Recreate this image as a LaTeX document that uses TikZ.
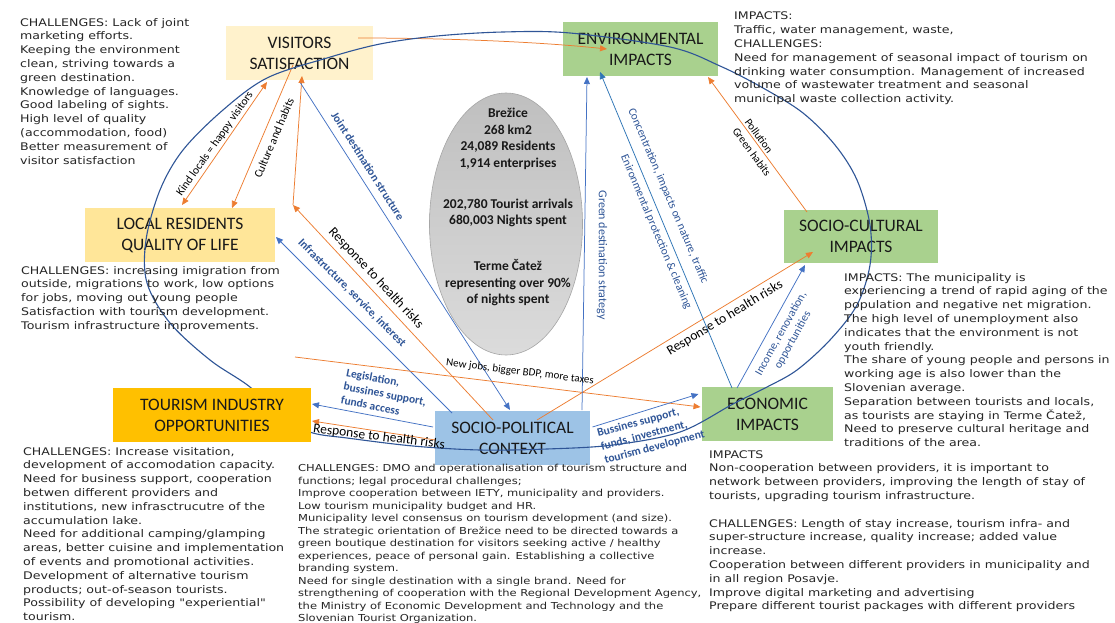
\documentclass[tikz,border=0pt]{standalone}
\usepackage{fontspec}
\setmainfont{Carlito}
\newfontfamily\hand[FakeStretch=1.2]{DejaVu Sans}
\usetikzlibrary{arrows.meta,calc,shapes.geometric}

\definecolor{orA}{HTML}{ED7D31}
\definecolor{blA}{HTML}{4472C4}
\definecolor{blB}{HTML}{2E75B6}
\definecolor{blD}{HTML}{2F5597}
\definecolor{yelL}{HTML}{FFF2CC}
\definecolor{yelM}{HTML}{FFE699}
\definecolor{yelS}{HTML}{FFC000}
\definecolor{grn}{HTML}{A9D18E}
\definecolor{bluBox}{HTML}{9DC3E6}
\definecolor{ink}{HTML}{262626}

\tikzset{
  box/.style={inner sep=0pt, align=center, text=black!90,
    font=\fontsize{17.5}{21}\selectfont},
  tip/.style={-{Triangle[length=7pt,width=6pt]}},
  oarr/.style={draw=orA, line width=0.75pt, tip},
  barr/.style={draw=blA, line width=0.75pt, tip},
  carr/.style={draw=blB, line width=0.75pt, tip},
  lblr/.style={inner sep=0pt, text=black, font=\fontsize{13.5}{16}\selectfont},
  lblo/.style={inner sep=0pt, text=black, font=\fontsize{11.5}{14}\selectfont},
  lbls/.style={inner sep=0pt, text=black, font=\fontsize{11}{13}\selectfont},
  lblb/.style={inner sep=0pt, text=blD, font=\bfseries\fontsize{11.5}{14}\selectfont},
  lblbl/.style={inner sep=0pt, text=blD, font=\fontsize{11.5}{13.5}\selectfont},
  note/.style={inner sep=0pt, anchor=north west, align=left, text=ink,
    font=\hand\fontsize{10.5}{13.8}\selectfont},
  stat/.style={inner sep=0pt, align=center, text=black!90,
    font=\bfseries\fontsize{13.5}{16.5}\selectfont}
}

\begin{document}
\begin{tikzpicture}[x=1pt,y=-1pt]
\fill[white] (0,0) rectangle (1115,623);
\useasboundingbox (0,0) rectangle (1115,623);

% central statistics ellipse
\node[ellipse, draw=gray!70!white, line width=0.6pt, minimum width=153pt,
  minimum height=262pt, top color=gray!50!white, bottom color=gray!28!white] (ell) at (506,224) {};
\node[stat] (st1) at (508,139) {Brežice\\268 km2\\24,089 Residents\\1,914 enterprises};
\node[stat] (st2) at (508,213) {202,780 Tourist arrivals\\680,003 Nights spent};
\node[stat] (st3) at (508,283) {Terme Čatež\\representing over 90\%\\of nights spent};

% boxes
\node[box, fill=yelL, minimum width=147pt, minimum height=54pt] (vis) at (299.5,53) {VISITORS\\SATISFACTION};
\node[box, fill=grn, minimum width=155pt, minimum height=54pt] (env) at (640.5,49) {ENVIRONMENTAL\\IMPACTS};
\node[box, fill=yelM, minimum width=190pt, minimum height=54pt] (loc) at (180,235) {LOCAL RESIDENTS\\QUALITY OF LIFE};
\node[box, fill=grn, minimum width=154pt, minimum height=53pt] (socu) at (861,236.5) {SOCIO-CULTURAL\\IMPACTS};
\node[box, fill=bluBox, minimum width=155pt, minimum height=54pt] (sopo) at (512.5,438) {SOCIO-POLITICAL\\CONTEXT};
\node[box, fill=grn, minimum width=131pt, minimum height=54pt] (econ) at (767.5,414) {ECONOMIC\\IMPACTS};

% free ends
\coordinate (rh) at (293,205);
\coordinate (nj) at (295,357);

% connectors
\draw[oarr] ($(vis.center)+(58.5,-15)$) .. controls (450,38) and (540,42) .. ($(env.center)+(-33.5,0)$);
\draw[oarr, {Triangle[length=7pt,width=6pt]}-{Triangle[length=7pt,width=6pt]}] ($(loc.center)+(2,-30)$) -- ($(vis.center)+(-32.5,29)$);
\draw[oarr] ($(vis.center)+(-6.5,12)$) -- ($(loc.center)+(52,-27)$);
\draw[oarr] (rh) -- ($(vis.center)+(2.5,23)$);
\draw[oarr] ($(sopo.center)+(-19.5,-18)$) -- (rh);
\draw[barr] ($(vis.center)+(1,30)$) -- ($(sopo.center)+(-2.5,-28)$);
\draw[barr] ($(sopo.center)+(-60.5,-25)$) -- ($(loc.center)+(96,2)$);
\draw[barr] ($(sopo.center)+(-79.5,-11)$) -- (312,404);
\draw[oarr] ($(sopo.center)+(-77,2)$) -- (312,421);
\draw[oarr] (nj) -- ($(econ.center)+(-67,-7)$);
\draw[barr] ($(sopo.center)+(80,-11)$) -- ($(econ.center)+(-69,-20)$);
\draw[oarr] ($(sopo.center)+(24.5,-18)$) -- ($(socu.center)+(-48,15.5)$);
\draw[barr] ($(sopo.center)+(69.5,-28)$) -- ($(env.center)+(-53.5,28)$);
\draw[carr] ($(econ.center)+(-35.5,-26)$) -- ($(env.center)+(-40.5,23)$);
\draw[barr] ($(econ.center)+(-30.5,-26)$) -- ($(socu.center)+(-56,28.5)$);
\draw[oarr] ($(socu.center)+(-54,-24.5)$) -- ($(env.center)+(67.5,28)$);

% the loop joining all fields
\draw[blD, line width=1.1pt] plot[smooth cycle, tension=0.55] coordinates {
  (250,387) (210,360) (170,323) (147,283) (146,240) (160,190) (183,150)
  (223,110) (267,78) (327,58) (380,44) (437,36) (503,32) (570,33) (670,47)
  (720,66) (763,88) (803,113) (835,145) (857,180) (870,225) (870,265)
  (857,305) (830,340) (797,370) (767,387) (733,404) (680,432) (613,445)
  (547,449) (480,450) (413,446) (347,438) (313,433) (285,420)};

\node[box, fill=yelS, minimum width=198pt, minimum height=54pt] (tour) at (212,415) {TOURISM INDUSTRY\\OPPORTUNITIES};

% connector labels
\node[lblo, rotate=55] (tkind) at (215,144) {Kind locals = happy visitors};
\node[lblo, rotate=67] (tcult) at (274,138) {Culture and habits};
\node[lblr, rotate=-47] (trh1) at (376,278) {Response to health risks};
\node[lblb, rotate=-57.5] (tjoint) at (368,166) {Joint destination structure};
\node[lblb, rotate=-45] (tinfra) at (352,293) {Infrastructure, service, interest};
\node[lblb, rotate=-11, align=left] (tlegis) at (385,394) {Legislation,\\bussines support,\\funds access};
\node[lblr, rotate=-7] (trh3) at (379,437) {Response to health risks};
\node[lbls, rotate=-7] (tjobs) at (520,372) {New jobs, bigger BDP, more taxes};
\node[lblb, rotate=15, align=left] (tbus) at (651,434) {Bussines support,\\funds, investment,\\tourism development};
\node[lblr, rotate=31] (trh2) at (725,318) {Response to health risks};
\node[lblbl, rotate=-90, font=\fontsize{12}{14}\selectfont] (tgreen) at (602,255) {Green destination strategy};
\node[lblbl, rotate=-67] (tconc) at (668,196) {Concentration, impacts on nature, traffic};
\node[lblbl, rotate=-67] (tenv) at (656,232) {Enironmental protection \& cleaning};
\node[lblbl, rotate=61, align=center] (tinc) at (787,337) {Income, renovation,\\opportunities};
\node[lbls, rotate=-54] (tpol) at (759,136) {Pollution};
\node[lbls, rotate=-54] (tgh) at (752,152) {Green habits};

% notes
\node[note] (nA) at (20,18) {CHALLENGES: Lack of joint\\marketing efforts.\\Keeping the environment\\clean, striving towards a\\green destination.\\Knowledge of languages.\\Good labeling of sights.\\High level of quality\\(accommodation, food)\\Better measurement of\\visitor satisfaction};
\node[note] (nB) at (734,12) {IMPACTS:\\Traffic, water management, waste,\\CHALLENGES:\\Need for management of seasonal impact of tourism on\\drinking water consumption. Management of increased\\volume of wastewater treatment and seasonal\\municipal waste collection activity.};
\node[note] (nC) at (21,266) {CHALLENGES: increasing imigration from\\outside, migrations to work, low options\\for jobs, moving out young people\\Satisfaction with tourism development.\\Tourism infrastructure improvements.};
\node[note] (nD) at (844,273) {IMPACTS: The municipality is\\experiencing a trend of rapid aging of the\\population and negative net migration.\\The high level of unemployment also\\indicates that the environment is not\\youth friendly.\\The share of young people and persons in\\working age is also lower than the\\Slovenian average.\\Separation between tourists and locals,\\as tourists are staying in Terme Čatež,\\Need to preserve cultural heritage and\\traditions of the area.};
\node[note] (nE) at (23,447) {CHALLENGES: Increase visitation,\\development of accomodation capacity.\\Need for business support, cooperation\\betwen different providers and\\institutions, new infrasctrucutre of the\\accumulation lake.\\Need for additional camping/glamping\\areas, better cuisine and implementation\\of events and promotional activities.\\Development of alternative tourism\\products; out-of-season tourists.\\Possibility of developing "experiential"\\tourism.};
\node[note, font=\hand\fontsize{9.6}{12.5}\selectfont] (nF) at (298,464) {CHALLENGES: DMO and operationalisation of tourism structure and\\functions; legal procedural challenges;\\Improve cooperation between IETY, municipality and providers.\\Low tourism municipality budget and HR.\\Municipality level consensus on tourism development (and size).\\The strategic orientation of Brežice need to be directed towards a\\green boutique destination for visitors seeking active / healthy\\experiences, peace of personal gain. Establishing a collective\\branding system.\\Need for single destination with a single brand. Need for\\strengthening of cooperation with the Regional Development Agency,\\the Ministry of Economic Development and Technology and the\\Slovenian Tourist Organization.};
\node[note] (nG) at (709,450) {IMPACTS\\Non-cooperation between providers, it is important to\\network between providers, improving the length of stay of\\tourists, upgrading tourism infrastructure.\\[13.8pt]CHALLENGES: Length of stay increase, tourism infra- and\\super-structure increase, quality increase; added value\\increase.\\Cooperation between different providers in municipality and\\in all region Posavje.\\Improve digital marketing and advertising\\Prepare different tourist packages with different providers};
\end{tikzpicture}
\end{document}
